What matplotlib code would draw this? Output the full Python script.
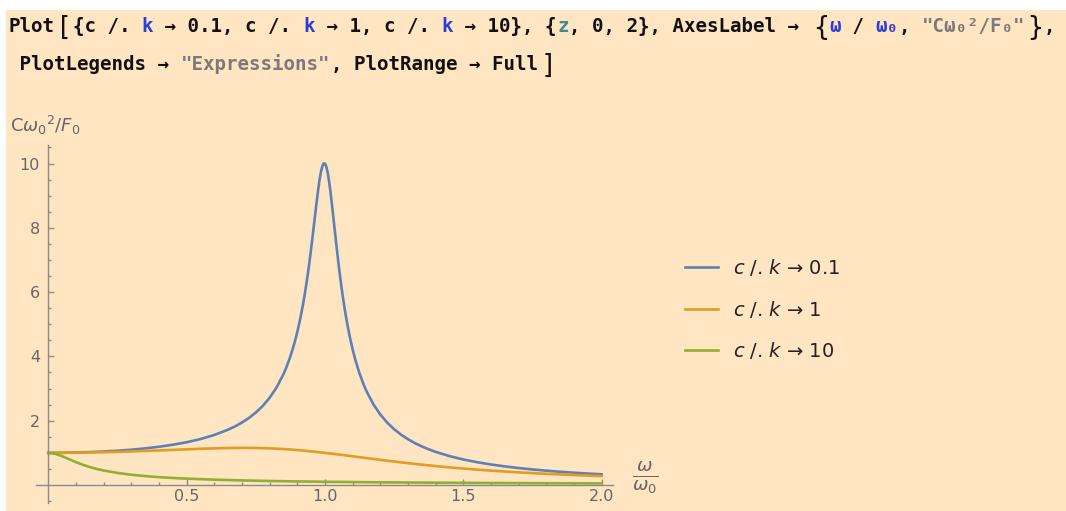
import numpy as np
import matplotlib.pyplot as plt
from matplotlib.ticker import FixedLocator

# values
z_blue = [0, 0.05, 0.1, 0.15, 0.2, 0.25, 0.3, 0.35, 0.4, 0.45, 0.5, 0.55, 0.6, 0.65, 0.675,
          0.7, 0.725, 0.75, 0.775, 0.8, 0.825, 0.85, 0.86, 0.875, 0.89, 0.9, 0.91, 0.92, 0.925,
          0.93, 0.935, 0.94, 0.945, 0.95, 0.955, 0.96, 0.965, 0.97, 0.975, 0.98, 0.985, 0.99,
          0.995, 1.0, 1.005, 1.01, 1.015, 1.02, 1.025, 1.03, 1.035, 1.04, 1.045, 1.05, 1.055,
          1.06, 1.065, 1.07, 1.075, 1.08, 1.09, 1.1, 1.11, 1.125, 1.14, 1.15, 1.175, 1.2, 1.225,
          1.25, 1.275, 1.3, 1.325, 1.35, 1.375, 1.4, 1.45, 1.5, 1.55, 1.6, 1.65, 1.7, 1.75, 1.8,
          1.85, 1.9, 1.95, 2.0]
c_blue = [1.0, 1.0025, 1.010, 1.023, 1.041, 1.066, 1.098, 1.139, 1.189, 1.252, 1.330, 1.429,
          1.556, 1.721, 1.823, 1.943, 2.084, 2.253, 2.458, 2.712, 3.032, 3.446, 3.647, 3.997,
          4.422, 4.757, 5.141, 5.585, 5.832, 6.097, 6.381, 6.684, 7.006, 7.346, 7.701, 8.068,
          8.439, 8.804, 9.150, 9.461, 9.718, 9.903, 10.0, 10.0, 9.901, 9.711, 9.442, 9.115,
          8.747, 8.357, 7.959, 7.565, 7.181, 6.815, 6.468, 6.141, 5.836, 5.552, 5.287, 5.041,
          4.600, 4.218, 3.887, 3.467, 3.120, 2.921, 2.510, 2.193, 1.940, 1.735, 1.566, 1.424,
          1.304, 1.200, 1.110, 1.031, 0.899, 0.794, 0.709, 0.638, 0.578, 0.527, 0.483, 0.445,
          0.412, 0.382, 0.356, 0.333]

z_orange = [0, 0.05, 0.1, 0.15, 0.2, 0.25, 0.3, 0.35, 0.4, 0.45, 0.5, 0.55, 0.6, 0.65, 0.7,
            0.75, 0.8, 0.85, 0.9, 0.95, 1.0, 1.05, 1.1, 1.15, 1.2, 1.25, 1.3, 1.35, 1.4, 1.45,
            1.5, 1.55, 1.6, 1.65, 1.7, 1.75, 1.8, 1.85, 1.9, 1.95, 2.0]
c_orange = [1.0, 1.001, 1.005, 1.011, 1.020, 1.031, 1.044, 1.059, 1.075, 1.092, 1.109, 1.126,
            1.140, 1.150, 1.155, 1.152, 1.140, 1.118, 1.087, 1.047, 1.0, 0.948, 0.893, 0.837,
            0.782, 0.730, 0.679, 0.633, 0.589, 0.549, 0.512, 0.478, 0.447, 0.419, 0.393, 0.370,
            0.348, 0.328, 0.310, 0.293, 0.277]

z_green = [0, 0.025, 0.05, 0.075, 0.1, 0.125, 0.15, 0.175, 0.2, 0.25, 0.3, 0.35, 0.4, 0.45,
           0.5, 0.6, 0.7, 0.8, 0.9, 1.0, 1.2, 1.4, 1.6, 1.8, 2.0]
c_green = [1.0, 0.971, 0.896, 0.803, 0.711, 0.629, 0.559, 0.500, 0.451, 0.375, 0.319, 0.277,
           0.245, 0.219, 0.198, 0.166, 0.142, 0.125, 0.111, 0.100, 0.0833, 0.0713, 0.0622,
           0.0551, 0.0494]

labels = [r"$c$ /. $k$ → 0.1", r"$c$ /. $k$ → 1", r"$c$ /. $k$ → 10"]
colors = ["#5E81B5", "#E19C24", "#8FB032"]

bg = "#FFE5C2"
grey = "#666666"

fig = plt.figure(figsize=(10.66, 5.11), dpi=100)
fig.patch.set_facecolor("white")
# beige cell background (white strip on top/left)
fig.patches.append(plt.Rectangle((6 / 1066, 0), 1, 1 - 10 / 511, transform=fig.transFigure,
                                 facecolor=bg, edgecolor="none", zorder=-5))

# code input lines
blk = "#111111"
kb = "#2A3FD6"
teal = "#3F8A93"
gs = "#7A7A7A"
line1 = [("Plot", blk), ("[", blk), ("{c /. ", blk), ("k", kb), (" → 0.1, c /. ", blk), ("k", kb),
         (" → 1, c /. ", blk), ("k", kb), (" → 10}, {", blk), ("z", teal), (", 0, 2}, AxesLabel → ", blk),
         ("{", blk), ("ω", kb), (" / ", blk), ("ω₀", kb), (", ", blk), ("\"Cω₀²/F₀\"", gs), ("}", blk), (",", blk)]
line2 = [(" PlotLegends → ", blk), ("\"Expressions\"", gs), (", PlotRange → Full", blk), ("]", blk)]
big_ones = {(0, 1), (0, 11), (0, 17), (1, 3)}

fs = 13.8
cw = 0.602 * fs * 100 / 72
for li, (segs, x0, ybase) in enumerate([(line1, 8, 32), (line2, 8, 70)]):
    x = x0
    for si, (s, col) in enumerate(segs):
        big = (li, si) in big_ones
        fig.text((x + (2 if big else 0)) / 1066, 1 - (ybase + (3 if big else 0)) / 511, s,
                 color=col, family="DejaVu Sans Mono",
                 weight="light" if big else "bold", fontsize=19 if big else fs,
                 va="baseline", ha="left")
        x += cw * (len(s) + (0.6 if big else 0))

ax = fig.add_axes([36.1 / 1066, 8 / 511, 576.6 / 1066, 357.8 / 511])
ax.set_facecolor("none")
for z, c, col, lab in zip([z_blue, z_orange, z_green], [c_blue, c_orange, c_green], colors, labels):
    ax.plot(z, c, color=col, lw=1.9, label=lab, solid_joinstyle="round")

ax.set_xlim(-0.044, 2.04)
ax.set_ylim(-0.56, 10.57)
for s in ["top", "right"]:
    ax.spines[s].set_visible(False)
ax.spines["left"].set_position(("data", 0))
ax.spines["bottom"].set_position(("data", 0))
for s in ["left", "bottom"]:
    ax.spines[s].set_color("#8a8a8a")
    ax.spines[s].set_linewidth(1.0)

ax.set_xticks([0.5, 1.0, 1.5, 2.0])
ax.set_xticklabels(["0.5", "1.0", "1.5", "2.0"])
ax.set_yticks([2, 4, 6, 8, 10])
ax.set_yticklabels(["2", "4", "6", "8", "10"])
ax.xaxis.set_minor_locator(FixedLocator([v / 10 for v in range(1, 21) if v % 5]))
ax.yaxis.set_minor_locator(FixedLocator([v / 2 for v in range(-1, 22) if v % 4]))
ax.tick_params(which="both", direction="in", color="#8a8a8a", width=1.0, labelcolor=grey,
               labelsize=11.5)
ax.tick_params(which="major", length=4)
ax.tick_params(which="minor", length=2.5)
ax.tick_params(axis="x", pad=3)
ax.tick_params(axis="y", pad=6)

fig.text(10 / 1066, 1 - 125 / 511, r"$\mathregular{C}\omega_0{}^2/F_0$", color=grey,
         fontsize=13, va="center", ha="left")
fig.text(645 / 1066, 1 - 478 / 511, r"$\frac{\omega}{\omega_0}$", color=grey,
         fontsize=19, va="center", ha="center")

fig.legend(loc="center left", bbox_to_anchor=(0.626, 1 - 309 / 511), frameon=False,
           fontsize=14, handlelength=1.7, labelspacing=1.05, handletextpad=0.8,
           labelcolor="#222222")

fig.savefig("out.png", dpi=100, facecolor=fig.get_facecolor())
